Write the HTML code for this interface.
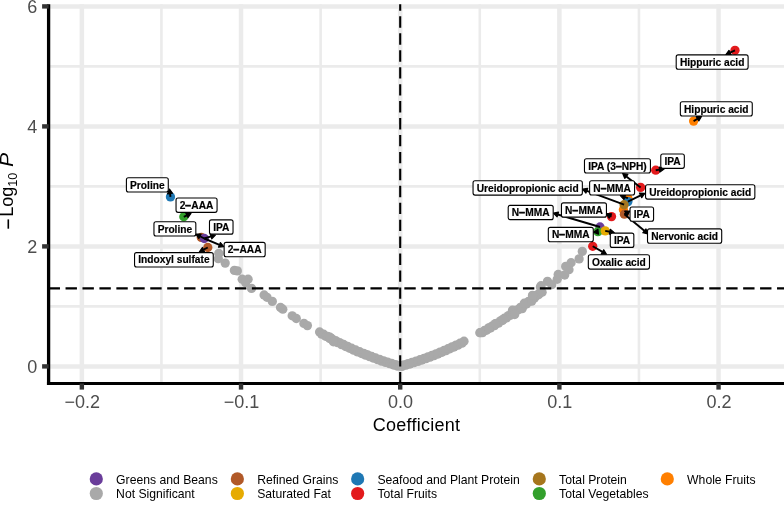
<!DOCTYPE html>
<html><head><meta charset="utf-8"><style>
html,body{margin:0;padding:0;background:#fff;width:784px;height:513px;overflow:hidden;}
svg{display:block;will-change:transform;font-family:"Liberation Sans",sans-serif;font-variant-ligatures:none;font-feature-settings:"liga" 0,"clig" 0;}
</style></head><body>
<svg width="784" height="513" viewBox="0 0 784 513">
<rect width="784" height="513" fill="#ffffff"/>
<line x1="48.6" y1="306.40" x2="784" y2="306.40" stroke="#ebebeb" stroke-width="2.6"/>
<line x1="48.6" y1="186.40" x2="784" y2="186.40" stroke="#ebebeb" stroke-width="2.6"/>
<line x1="48.6" y1="66.40" x2="784" y2="66.40" stroke="#ebebeb" stroke-width="2.6"/>
<line x1="161.44" y1="4.3" x2="161.44" y2="383.5" stroke="#ebebeb" stroke-width="2.6"/>
<line x1="320.61" y1="4.3" x2="320.61" y2="383.5" stroke="#ebebeb" stroke-width="2.6"/>
<line x1="479.79" y1="4.3" x2="479.79" y2="383.5" stroke="#ebebeb" stroke-width="2.6"/>
<line x1="638.96" y1="4.3" x2="638.96" y2="383.5" stroke="#ebebeb" stroke-width="2.6"/>
<line x1="48.6" y1="366.40" x2="784" y2="366.40" stroke="#ebebeb" stroke-width="4.5"/>
<line x1="48.6" y1="246.40" x2="784" y2="246.40" stroke="#ebebeb" stroke-width="4.5"/>
<line x1="48.6" y1="126.40" x2="784" y2="126.40" stroke="#ebebeb" stroke-width="4.5"/>
<line x1="48.6" y1="6.40" x2="784" y2="6.40" stroke="#ebebeb" stroke-width="4.5"/>
<line x1="81.85" y1="4.3" x2="81.85" y2="383.5" stroke="#ebebeb" stroke-width="4.5"/>
<line x1="241.02" y1="4.3" x2="241.02" y2="383.5" stroke="#ebebeb" stroke-width="4.5"/>
<line x1="400.20" y1="4.3" x2="400.20" y2="383.5" stroke="#ebebeb" stroke-width="4.5"/>
<line x1="559.38" y1="4.3" x2="559.38" y2="383.5" stroke="#ebebeb" stroke-width="4.5"/>
<line x1="718.55" y1="4.3" x2="718.55" y2="383.5" stroke="#ebebeb" stroke-width="4.5"/>
<g fill="#a9a9a9">
<circle cx="218.8" cy="253.4" r="4.65"/>
<circle cx="218.3" cy="258.7" r="4.65"/>
<circle cx="225.2" cy="263.1" r="4.65"/>
<circle cx="234.4" cy="270.4" r="4.65"/>
<circle cx="237.3" cy="270.9" r="4.65"/>
<circle cx="242.2" cy="279.2" r="4.65"/>
<circle cx="248.1" cy="279.2" r="4.65"/>
<circle cx="245.6" cy="282.6" r="4.65"/>
<circle cx="251.5" cy="288.4" r="4.65"/>
<circle cx="264.1" cy="295.0" r="4.65"/>
<circle cx="267.0" cy="297.3" r="4.65"/>
<circle cx="272.3" cy="301.4" r="4.65"/>
<circle cx="280.5" cy="307.5" r="4.65"/>
<circle cx="282.8" cy="309.2" r="4.65"/>
<circle cx="292.2" cy="315.8" r="4.65"/>
<circle cx="296.3" cy="318.5" r="4.65"/>
<circle cx="303.9" cy="323.4" r="4.65"/>
<circle cx="307.4" cy="325.6" r="4.65"/>
<circle cx="319.6" cy="332.0" r="4.65"/>
<circle cx="321.6" cy="334.1" r="4.65"/>
<circle cx="323.6" cy="334.2" r="4.65"/>
<circle cx="325.6" cy="336.3" r="4.65"/>
<circle cx="327.6" cy="336.4" r="4.65"/>
<circle cx="329.6" cy="338.5" r="4.65"/>
<circle cx="331.6" cy="338.5" r="4.65"/>
<circle cx="333.6" cy="340.6" r="4.65"/>
<circle cx="335.6" cy="340.6" r="4.65"/>
<circle cx="337.6" cy="342.6" r="4.65"/>
<circle cx="339.6" cy="342.6" r="4.65"/>
<circle cx="341.6" cy="344.6" r="4.65"/>
<circle cx="343.6" cy="344.5" r="4.65"/>
<circle cx="345.6" cy="346.5" r="4.65"/>
<circle cx="347.6" cy="346.4" r="4.65"/>
<circle cx="349.6" cy="348.3" r="4.65"/>
<circle cx="351.6" cy="348.2" r="4.65"/>
<circle cx="353.6" cy="350.1" r="4.65"/>
<circle cx="355.6" cy="350.0" r="4.65"/>
<circle cx="357.6" cy="351.9" r="4.65"/>
<circle cx="359.6" cy="351.7" r="4.65"/>
<circle cx="361.6" cy="353.5" r="4.65"/>
<circle cx="363.6" cy="353.4" r="4.65"/>
<circle cx="365.6" cy="355.2" r="4.65"/>
<circle cx="367.6" cy="354.9" r="4.65"/>
<circle cx="369.6" cy="356.7" r="4.65"/>
<circle cx="371.6" cy="356.5" r="4.65"/>
<circle cx="373.6" cy="358.2" r="4.65"/>
<circle cx="375.6" cy="358.0" r="4.65"/>
<circle cx="377.6" cy="359.7" r="4.65"/>
<circle cx="379.6" cy="359.4" r="4.65"/>
<circle cx="381.6" cy="361.1" r="4.65"/>
<circle cx="383.6" cy="360.8" r="4.65"/>
<circle cx="385.6" cy="362.4" r="4.65"/>
<circle cx="387.6" cy="362.1" r="4.65"/>
<circle cx="389.6" cy="363.7" r="4.65"/>
<circle cx="391.6" cy="363.3" r="4.65"/>
<circle cx="393.6" cy="365.0" r="4.65"/>
<circle cx="395.6" cy="364.6" r="4.65"/>
<circle cx="397.6" cy="366.2" r="4.65"/>
<circle cx="399.6" cy="365.7" r="4.65"/>
<circle cx="329.9" cy="337.2" r="4.65"/>
<circle cx="333.4" cy="341.8" r="4.65"/>
<circle cx="365.5" cy="354.4" r="4.65"/>
<circle cx="371.3" cy="356.7" r="4.65"/>
<circle cx="400.0" cy="365.8" r="4.65"/>
<circle cx="402.0" cy="366.4" r="4.65"/>
<circle cx="404.0" cy="364.8" r="4.65"/>
<circle cx="406.0" cy="365.2" r="4.65"/>
<circle cx="408.0" cy="363.6" r="4.65"/>
<circle cx="410.0" cy="364.0" r="4.65"/>
<circle cx="412.0" cy="362.4" r="4.65"/>
<circle cx="414.0" cy="362.7" r="4.65"/>
<circle cx="416.0" cy="361.1" r="4.65"/>
<circle cx="418.0" cy="361.4" r="4.65"/>
<circle cx="420.0" cy="359.7" r="4.65"/>
<circle cx="422.0" cy="360.0" r="4.65"/>
<circle cx="424.0" cy="358.3" r="4.65"/>
<circle cx="426.0" cy="358.6" r="4.65"/>
<circle cx="428.0" cy="356.9" r="4.65"/>
<circle cx="430.0" cy="357.1" r="4.65"/>
<circle cx="432.0" cy="355.3" r="4.65"/>
<circle cx="434.0" cy="355.6" r="4.65"/>
<circle cx="436.0" cy="353.8" r="4.65"/>
<circle cx="438.0" cy="354.0" r="4.65"/>
<circle cx="440.0" cy="352.1" r="4.65"/>
<circle cx="442.0" cy="352.3" r="4.65"/>
<circle cx="444.0" cy="350.5" r="4.65"/>
<circle cx="446.0" cy="350.6" r="4.65"/>
<circle cx="448.0" cy="348.7" r="4.65"/>
<circle cx="450.0" cy="348.8" r="4.65"/>
<circle cx="452.0" cy="346.9" r="4.65"/>
<circle cx="454.0" cy="347.0" r="4.65"/>
<circle cx="456.0" cy="345.1" r="4.65"/>
<circle cx="458.0" cy="345.1" r="4.65"/>
<circle cx="460.0" cy="343.2" r="4.65"/>
<circle cx="462.0" cy="343.2" r="4.65"/>
<circle cx="464.0" cy="341.2" r="4.65"/>
<circle cx="480.5" cy="332.7" r="4.65"/>
<circle cx="482.5" cy="332.6" r="4.65"/>
<circle cx="484.5" cy="330.5" r="4.65"/>
<circle cx="486.5" cy="330.3" r="4.65"/>
<circle cx="488.5" cy="328.2" r="4.65"/>
<circle cx="490.5" cy="328.0" r="4.65"/>
<circle cx="492.5" cy="325.8" r="4.65"/>
<circle cx="494.5" cy="325.6" r="4.65"/>
<circle cx="496.5" cy="323.3" r="4.65"/>
<circle cx="498.5" cy="323.1" r="4.65"/>
<circle cx="500.5" cy="320.8" r="4.65"/>
<circle cx="502.5" cy="320.5" r="4.65"/>
<circle cx="504.5" cy="318.2" r="4.65"/>
<circle cx="506.5" cy="317.9" r="4.65"/>
<circle cx="508.5" cy="315.6" r="4.65"/>
<circle cx="510.5" cy="315.3" r="4.65"/>
<circle cx="512.5" cy="312.9" r="4.65"/>
<circle cx="514.5" cy="312.5" r="4.65"/>
<circle cx="516.5" cy="310.1" r="4.65"/>
<circle cx="518.5" cy="309.7" r="4.65"/>
<circle cx="520.5" cy="307.3" r="4.65"/>
<circle cx="522.5" cy="306.9" r="4.65"/>
<circle cx="524.5" cy="304.4" r="4.65"/>
<circle cx="526.5" cy="304.0" r="4.65"/>
<circle cx="528.5" cy="301.5" r="4.65"/>
<circle cx="530.5" cy="301.0" r="4.65"/>
<circle cx="532.5" cy="298.4" r="4.65"/>
<circle cx="534.5" cy="297.9" r="4.65"/>
<circle cx="536.5" cy="295.4" r="4.65"/>
<circle cx="538.5" cy="294.8" r="4.65"/>
<circle cx="540.5" cy="292.2" r="4.65"/>
<circle cx="479.8" cy="332.7" r="4.65"/>
<circle cx="488.9" cy="327.9" r="4.65"/>
<circle cx="495.4" cy="323.6" r="4.65"/>
<circle cx="502.9" cy="319.3" r="4.65"/>
<circle cx="512.5" cy="310.2" r="4.65"/>
<circle cx="514.7" cy="314.5" r="4.65"/>
<circle cx="522.2" cy="308.6" r="4.65"/>
<circle cx="524.3" cy="303.2" r="4.65"/>
<circle cx="531.8" cy="301.1" r="4.65"/>
<circle cx="532.9" cy="295.7" r="4.65"/>
<circle cx="539.3" cy="293.6" r="4.65"/>
<circle cx="540.4" cy="287.1" r="4.65"/>
<circle cx="582.3" cy="251.4" r="4.65"/>
<circle cx="579.1" cy="258.9" r="4.65"/>
<circle cx="571.1" cy="262.7" r="4.65"/>
<circle cx="569.0" cy="269.7" r="4.65"/>
<circle cx="565.7" cy="266.4" r="4.65"/>
<circle cx="564.7" cy="275.0" r="4.65"/>
<circle cx="558.2" cy="274.5" r="4.65"/>
<circle cx="557.2" cy="279.3" r="4.65"/>
<circle cx="547.5" cy="281.4" r="4.65"/>
<circle cx="551.8" cy="284.7" r="4.65"/>
<circle cx="541.1" cy="285.7" r="4.65"/>
<circle cx="542.1" cy="292.2" r="4.65"/>
<circle cx="532.5" cy="295.4" r="4.65"/>
</g>
<circle cx="170.45" cy="196.9" r="4.65" fill="#1f78b4"/>
<circle cx="183.8" cy="216.8" r="4.65" fill="#33a02c"/>
<circle cx="201.3" cy="237.4" r="4.65" fill="#b15928"/>
<circle cx="204.3" cy="238.5" r="4.65" fill="#6a3d9a"/>
<circle cx="207.8" cy="247.5" r="4.65" fill="#b15928"/>
<circle cx="735.0" cy="50.3" r="4.65" fill="#e31a1c"/>
<circle cx="693.6" cy="121.1" r="4.65" fill="#ff7f00"/>
<circle cx="655.7" cy="170.2" r="4.65" fill="#e31a1c"/>
<circle cx="640.6" cy="187.4" r="4.65" fill="#e31a1c"/>
<circle cx="627.9" cy="198.2" r="4.65" fill="#ff7f00"/>
<circle cx="627.9" cy="201.6" r="4.65" fill="#1f78b4"/>
<circle cx="623.4" cy="209.8" r="4.65" fill="#ff7f00"/>
<circle cx="624.1" cy="204.7" r="4.65" fill="#a6761d"/>
<circle cx="624.4" cy="214.2" r="4.65" fill="#b15928"/>
<circle cx="611.5" cy="216.6" r="4.65" fill="#e31a1c"/>
<circle cx="600.0" cy="227.0" r="4.65" fill="#6a3d9a"/>
<circle cx="597.9" cy="231.7" r="4.65" fill="#33a02c"/>
<circle cx="605.2" cy="230.9" r="4.65" fill="#e6ab02"/>
<circle cx="592.7" cy="246.3" r="4.65" fill="#e31a1c"/>
<line x1="48.6" y1="288.34" x2="784" y2="288.34" stroke="#000" stroke-width="2.1" stroke-dasharray="11.39 5.55"/>
<line x1="400.2" y1="383.5" x2="400.2" y2="4.3" stroke="#000" stroke-width="2.1" stroke-dasharray="11.39 5.55"/>
<line x1="170.45" y1="196.9" x2="170.05" y2="193.57" stroke="#000" stroke-width="1.9"/>
<polygon points="169.50,189.00 172.53,193.27 167.57,193.87" fill="#000" stroke="#000" stroke-width="1.2" stroke-linejoin="round"/>
<line x1="183.8" y1="216.8" x2="186.86" y2="215.31" stroke="#000" stroke-width="1.9"/>
<polygon points="191.00,213.30 187.96,217.56 185.77,213.06" fill="#000" stroke="#000" stroke-width="1.2" stroke-linejoin="round"/>
<line x1="204.3" y1="238.5" x2="199.97" y2="236.23" stroke="#000" stroke-width="1.9"/>
<polygon points="195.90,234.10 201.13,234.02 198.81,238.45" fill="#000" stroke="#000" stroke-width="1.2" stroke-linejoin="round"/>
<line x1="204.3" y1="238.5" x2="211.01" y2="236.38" stroke="#000" stroke-width="1.9"/>
<polygon points="215.40,235.00 211.76,238.77 210.26,234.00" fill="#000" stroke="#000" stroke-width="1.2" stroke-linejoin="round"/>
<line x1="204.3" y1="238.5" x2="219.46" y2="244.83" stroke="#000" stroke-width="1.9"/>
<polygon points="223.70,246.60 218.49,247.13 220.42,242.52" fill="#000" stroke="#000" stroke-width="1.2" stroke-linejoin="round"/>
<line x1="207.8" y1="247.5" x2="203.49" y2="249.70" stroke="#000" stroke-width="1.9"/>
<polygon points="199.40,251.80 202.36,247.48 204.63,251.93" fill="#000" stroke="#000" stroke-width="1.2" stroke-linejoin="round"/>
<line x1="735.0" y1="50.3" x2="730.06" y2="52.63" stroke="#000" stroke-width="1.9"/>
<polygon points="725.90,54.60 728.99,50.37 731.13,54.90" fill="#000" stroke="#000" stroke-width="1.2" stroke-linejoin="round"/>
<line x1="693.6" y1="121.1" x2="697.55" y2="118.75" stroke="#000" stroke-width="1.9"/>
<polygon points="701.50,116.40 698.82,120.90 696.27,116.60" fill="#000" stroke="#000" stroke-width="1.2" stroke-linejoin="round"/>
<line x1="655.7" y1="170.2" x2="659.55" y2="169.65" stroke="#000" stroke-width="1.9"/>
<polygon points="664.10,169.00 659.90,172.13 659.19,167.18" fill="#000" stroke="#000" stroke-width="1.2" stroke-linejoin="round"/>
<line x1="640.6" y1="187.4" x2="626.34" y2="176.41" stroke="#000" stroke-width="1.9"/>
<polygon points="622.70,173.60 627.87,174.43 624.82,178.39" fill="#000" stroke="#000" stroke-width="1.2" stroke-linejoin="round"/>
<line x1="627.9" y1="201.6" x2="640.66" y2="195.41" stroke="#000" stroke-width="1.9"/>
<polygon points="644.80,193.40 641.75,197.66 639.57,193.16" fill="#000" stroke="#000" stroke-width="1.2" stroke-linejoin="round"/>
<line x1="627.9" y1="198.2" x2="624.65" y2="197.09" stroke="#000" stroke-width="1.9"/>
<polygon points="620.30,195.60 625.46,194.72 623.84,199.45" fill="#000" stroke="#000" stroke-width="1.2" stroke-linejoin="round"/>
<line x1="624.1" y1="204.7" x2="586.81" y2="190.81" stroke="#000" stroke-width="1.9"/>
<polygon points="582.50,189.20 587.68,188.46 585.94,193.15" fill="#000" stroke="#000" stroke-width="1.2" stroke-linejoin="round"/>
<line x1="624.4" y1="214.2" x2="625.92" y2="213.31" stroke="#000" stroke-width="1.9"/>
<polygon points="629.90,211.00 627.18,215.47 624.67,211.15" fill="#000" stroke="#000" stroke-width="1.2" stroke-linejoin="round"/>
<line x1="624.4" y1="214.2" x2="644.37" y2="230.85" stroke="#000" stroke-width="1.9"/>
<polygon points="647.90,233.80 642.77,232.77 645.97,228.93" fill="#000" stroke="#000" stroke-width="1.2" stroke-linejoin="round"/>
<line x1="611.5" y1="216.6" x2="610.36" y2="215.93" stroke="#000" stroke-width="1.9"/>
<polygon points="606.40,213.60 611.63,213.78 609.10,218.09" fill="#000" stroke="#000" stroke-width="1.2" stroke-linejoin="round"/>
<line x1="600.0" y1="227.0" x2="557.81" y2="214.51" stroke="#000" stroke-width="1.9"/>
<polygon points="553.40,213.20 558.52,212.11 557.10,216.90" fill="#000" stroke="#000" stroke-width="1.2" stroke-linejoin="round"/>
<polygon points="593.60,232.20 597.88,229.19 598.46,234.15" fill="#000" stroke="#000" stroke-width="1.2" stroke-linejoin="round"/>
<line x1="605.2" y1="230.9" x2="609.78" y2="231.76" stroke="#000" stroke-width="1.9"/>
<polygon points="614.30,232.60 609.32,234.21 610.24,229.30" fill="#000" stroke="#000" stroke-width="1.2" stroke-linejoin="round"/>
<line x1="592.7" y1="246.3" x2="602.51" y2="251.91" stroke="#000" stroke-width="1.9"/>
<polygon points="606.50,254.20 601.27,254.08 603.75,249.75" fill="#000" stroke="#000" stroke-width="1.2" stroke-linejoin="round"/>
<rect x="126.41" y="177.75" width="41.87" height="14.30" rx="2" ry="2" fill="#fff" stroke="#000" stroke-width="1.1"/>
<text x="147.35" y="188.50" text-anchor="middle" font-family="Liberation Sans" font-weight="bold" font-size="10.2" stroke="#000" stroke-width="0.18">Proline</text>
<rect x="176.04" y="198.05" width="41.03" height="14.30" rx="2" ry="2" fill="#fff" stroke="#000" stroke-width="1.1"/>
<text x="196.55" y="208.80" text-anchor="middle" font-family="Liberation Sans" font-weight="bold" font-size="10.2" stroke="#000" stroke-width="0.18">2<tspan stroke-width="0.6">−</tspan>AAA</text>
<rect x="153.96" y="221.75" width="41.87" height="14.30" rx="2" ry="2" fill="#fff" stroke="#000" stroke-width="1.1"/>
<text x="174.90" y="232.50" text-anchor="middle" font-family="Liberation Sans" font-weight="bold" font-size="10.2" stroke="#000" stroke-width="0.18">Proline</text>
<rect x="209.48" y="219.85" width="23.55" height="14.30" rx="2" ry="2" fill="#fff" stroke="#000" stroke-width="1.1"/>
<text x="221.25" y="230.60" text-anchor="middle" font-family="Liberation Sans" font-weight="bold" font-size="10.2" stroke="#000" stroke-width="0.18">IPA</text>
<rect x="224.14" y="242.40" width="41.03" height="14.30" rx="2" ry="2" fill="#fff" stroke="#000" stroke-width="1.1"/>
<text x="244.65" y="253.15" text-anchor="middle" font-family="Liberation Sans" font-weight="bold" font-size="10.2" stroke="#000" stroke-width="0.18">2<tspan stroke-width="0.6">−</tspan>AAA</text>
<rect x="134.55" y="252.65" width="78.71" height="14.30" rx="2" ry="2" fill="#fff" stroke="#000" stroke-width="1.1"/>
<text x="173.90" y="263.40" text-anchor="middle" font-family="Liberation Sans" font-weight="bold" font-size="10.2" stroke="#000" stroke-width="0.18">Indoxyl sulfate</text>
<rect x="676.20" y="54.92" width="71.91" height="14.30" rx="2" ry="2" fill="#fff" stroke="#000" stroke-width="1.1"/>
<text x="712.15" y="65.67" text-anchor="middle" font-family="Liberation Sans" font-weight="bold" font-size="10.2" stroke="#000" stroke-width="0.18">Hippuric acid</text>
<rect x="680.35" y="101.75" width="71.91" height="14.30" rx="2" ry="2" fill="#fff" stroke="#000" stroke-width="1.1"/>
<text x="716.30" y="112.50" text-anchor="middle" font-family="Liberation Sans" font-weight="bold" font-size="10.2" stroke="#000" stroke-width="0.18">Hippuric acid</text>
<rect x="660.78" y="154.03" width="23.55" height="14.30" rx="2" ry="2" fill="#fff" stroke="#000" stroke-width="1.1"/>
<text x="672.55" y="164.78" text-anchor="middle" font-family="Liberation Sans" font-weight="bold" font-size="10.2" stroke="#000" stroke-width="0.18">IPA</text>
<rect x="584.47" y="158.75" width="65.96" height="14.30" rx="2" ry="2" fill="#fff" stroke="#000" stroke-width="1.1"/>
<text x="617.45" y="169.50" text-anchor="middle" font-family="Liberation Sans" font-weight="bold" font-size="10.2" stroke="#000" stroke-width="0.18">IPA (3<tspan stroke-width="0.6">−</tspan>NPH)</text>
<rect x="645.55" y="184.80" width="109.30" height="14.30" rx="2" ry="2" fill="#fff" stroke="#000" stroke-width="1.1"/>
<text x="700.20" y="195.55" text-anchor="middle" font-family="Liberation Sans" font-weight="bold" font-size="10.2" stroke="#000" stroke-width="0.18">Ureidopropionic acid</text>
<rect x="589.61" y="180.75" width="44.98" height="14.30" rx="2" ry="2" fill="#fff" stroke="#000" stroke-width="1.1"/>
<text x="612.10" y="191.50" text-anchor="middle" font-family="Liberation Sans" font-weight="bold" font-size="10.2" stroke="#000" stroke-width="0.18">N<tspan stroke-width="0.6">−</tspan>MMA</text>
<rect x="473.05" y="180.80" width="109.30" height="14.30" rx="2" ry="2" fill="#fff" stroke="#000" stroke-width="1.1"/>
<text x="527.70" y="191.55" text-anchor="middle" font-family="Liberation Sans" font-weight="bold" font-size="10.2" stroke="#000" stroke-width="0.18">Ureidopropionic acid</text>
<rect x="630.03" y="207.00" width="23.55" height="14.30" rx="2" ry="2" fill="#fff" stroke="#000" stroke-width="1.1"/>
<text x="641.80" y="217.75" text-anchor="middle" font-family="Liberation Sans" font-weight="bold" font-size="10.2" stroke="#000" stroke-width="0.18">IPA</text>
<rect x="647.51" y="228.90" width="74.19" height="14.30" rx="2" ry="2" fill="#fff" stroke="#000" stroke-width="1.1"/>
<text x="684.60" y="239.65" text-anchor="middle" font-family="Liberation Sans" font-weight="bold" font-size="10.2" stroke="#000" stroke-width="0.18">Nervonic acid</text>
<rect x="561.46" y="202.85" width="44.98" height="14.30" rx="2" ry="2" fill="#fff" stroke="#000" stroke-width="1.1"/>
<text x="583.95" y="213.60" text-anchor="middle" font-family="Liberation Sans" font-weight="bold" font-size="10.2" stroke="#000" stroke-width="0.18">N<tspan stroke-width="0.6">−</tspan>MMA</text>
<rect x="508.21" y="205.35" width="44.98" height="14.30" rx="2" ry="2" fill="#fff" stroke="#000" stroke-width="1.1"/>
<text x="530.70" y="216.10" text-anchor="middle" font-family="Liberation Sans" font-weight="bold" font-size="10.2" stroke="#000" stroke-width="0.18">N<tspan stroke-width="0.6">−</tspan>MMA</text>
<rect x="548.31" y="227.40" width="44.98" height="14.30" rx="2" ry="2" fill="#fff" stroke="#000" stroke-width="1.1"/>
<text x="570.80" y="238.15" text-anchor="middle" font-family="Liberation Sans" font-weight="bold" font-size="10.2" stroke="#000" stroke-width="0.18">N<tspan stroke-width="0.6">−</tspan>MMA</text>
<rect x="610.28" y="233.10" width="23.55" height="14.30" rx="2" ry="2" fill="#fff" stroke="#000" stroke-width="1.1"/>
<text x="622.05" y="243.85" text-anchor="middle" font-family="Liberation Sans" font-weight="bold" font-size="10.2" stroke="#000" stroke-width="0.18">IPA</text>
<rect x="588.32" y="254.80" width="61.16" height="14.30" rx="2" ry="2" fill="#fff" stroke="#000" stroke-width="1.1"/>
<text x="618.90" y="265.55" text-anchor="middle" font-family="Liberation Sans" font-weight="bold" font-size="10.2" stroke="#000" stroke-width="0.18">Oxalic acid</text>
<line x1="48.6" y1="4.3" x2="48.6" y2="385.1" stroke="#000" stroke-width="3.3"/>
<line x1="46.95" y1="383.5" x2="784" y2="383.5" stroke="#000" stroke-width="3.2"/>
<line x1="42.1" y1="366.40" x2="48.6" y2="366.40" stroke="#333" stroke-width="4.4"/>
<text x="37.3" y="372.90" text-anchor="end" font-family="Liberation Sans" font-size="18" fill="#4d4d4d">0</text>
<line x1="42.1" y1="246.40" x2="48.6" y2="246.40" stroke="#333" stroke-width="4.4"/>
<text x="37.3" y="252.90" text-anchor="end" font-family="Liberation Sans" font-size="18" fill="#4d4d4d">2</text>
<line x1="42.1" y1="126.40" x2="48.6" y2="126.40" stroke="#333" stroke-width="4.4"/>
<text x="37.3" y="132.90" text-anchor="end" font-family="Liberation Sans" font-size="18" fill="#4d4d4d">4</text>
<line x1="42.1" y1="6.40" x2="48.6" y2="6.40" stroke="#333" stroke-width="4.4"/>
<text x="37.3" y="12.90" text-anchor="end" font-family="Liberation Sans" font-size="18" fill="#4d4d4d">6</text>
<line x1="81.85" y1="383.5" x2="81.85" y2="389.6" stroke="#333" stroke-width="4.4"/>
<text x="82.25" y="408.0" text-anchor="middle" font-family="Liberation Sans" font-size="18" fill="#4d4d4d">−0.2</text>
<line x1="241.02" y1="383.5" x2="241.02" y2="389.6" stroke="#333" stroke-width="4.4"/>
<text x="241.42" y="408.0" text-anchor="middle" font-family="Liberation Sans" font-size="18" fill="#4d4d4d">−0.1</text>
<line x1="400.20" y1="383.5" x2="400.20" y2="389.6" stroke="#333" stroke-width="4.4"/>
<text x="400.60" y="408.0" text-anchor="middle" font-family="Liberation Sans" font-size="18" fill="#4d4d4d">0.0</text>
<line x1="559.38" y1="383.5" x2="559.38" y2="389.6" stroke="#333" stroke-width="4.4"/>
<text x="559.77" y="408.0" text-anchor="middle" font-family="Liberation Sans" font-size="18" fill="#4d4d4d">0.1</text>
<line x1="718.55" y1="383.5" x2="718.55" y2="389.6" stroke="#333" stroke-width="4.4"/>
<text x="718.95" y="408.0" text-anchor="middle" font-family="Liberation Sans" font-size="18" fill="#4d4d4d">0.2</text>
<text x="416.5" y="431.0" text-anchor="middle" font-family="Liberation Sans" font-size="18" letter-spacing="0.24" fill="#000">Coefficient</text>
<rect x="7.5" y="219.4" width="1.6" height="9.3" fill="#000"/>
<text transform="translate(13.2,216.7) rotate(-90)" font-family="Liberation Sans" font-size="18" fill="#000">Log<tspan font-size="12.6" dy="4">10</tspan></text>
<text transform="translate(13.2,167.1) rotate(-90) scale(1.18,1)" font-family="Liberation Sans" font-style="italic" font-size="18" fill="#000">P</text>
<circle cx="96.3" cy="478.9" r="6.6" fill="#6a3d9a"/>
<text x="116.10" y="483.9" font-family="Liberation Sans" font-size="12.2" fill="#000">Greens and Beans</text>
<circle cx="96.3" cy="493.5" r="6.6" fill="#a9a9a9"/>
<text x="116.10" y="498.2" font-family="Liberation Sans" font-size="12.2" fill="#000">Not Significant</text>
<circle cx="237.35" cy="478.9" r="6.6" fill="#b15928"/>
<text x="257.15" y="483.9" font-family="Liberation Sans" font-size="12.2" fill="#000">Refined Grains</text>
<circle cx="237.35" cy="493.5" r="6.6" fill="#e6ab02"/>
<text x="257.15" y="498.2" font-family="Liberation Sans" font-size="12.2" fill="#000">Saturated Fat</text>
<circle cx="357.65" cy="478.9" r="6.6" fill="#1f78b4"/>
<text x="377.45" y="483.9" font-family="Liberation Sans" font-size="12.2" fill="#000">Seafood and Plant Protein</text>
<circle cx="357.65" cy="493.5" r="6.6" fill="#e31a1c"/>
<text x="377.45" y="498.2" font-family="Liberation Sans" font-size="12.2" fill="#000">Total Fruits</text>
<circle cx="539.3" cy="478.9" r="6.6" fill="#a6761d"/>
<text x="559.10" y="483.9" font-family="Liberation Sans" font-size="12.2" fill="#000">Total Protein</text>
<circle cx="539.3" cy="493.5" r="6.6" fill="#33a02c"/>
<text x="559.10" y="498.2" font-family="Liberation Sans" font-size="12.2" fill="#000">Total Vegetables</text>
<circle cx="667.3" cy="478.9" r="6.6" fill="#ff7f00"/>
<text x="687.10" y="483.9" font-family="Liberation Sans" font-size="12.2" fill="#000">Whole Fruits</text>
</svg>
</body></html>
